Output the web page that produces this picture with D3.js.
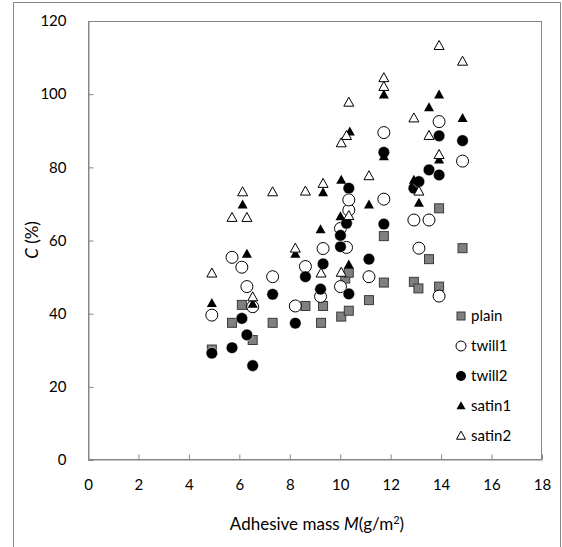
<!DOCTYPE html>
<html><head><meta charset="utf-8">
<script src="https://cdn.jsdelivr.net/npm/d3@7/dist/d3.min.js"></script>
<style>body{margin:0;background:#fff}svg{display:block}text{font-family:Lato,"Noto Sans",sans-serif;fill:#000}</style>
</head><body><svg id="c" width="562" height="547"></svg>
<script>
const xTicks=[0,2,4,6,8,10,12,14,16,18];
const yTicks=[0,20,40,60,80,100,120];
const seriesNames=["plain","twill1","twill2","satin1","satin2"];
const plainM=[4.91,5.71,6.10,6.53,7.32,8.62,9.24,9.32,10.04,10.34,10.2,10.34,11.14,11.73,11.73,12.92,13.1,13.52,13.92,13.92,14.85];
const plainC=[30.2,37.5,42.4,32.8,37.5,42.1,37.5,42.1,39.2,40.8,49.6,51.2,43.7,48.5,61.2,48.7,46.9,54.9,47.4,68.8,57.9];
const twill1M=[4.91,5.71,6.10,6.30,6.53,7.32,8.22,8.62,9.22,9.32,10.01,10.01,10.25,10.34,10.34,11.14,11.73,11.73,12.92,13.12,13.52,13.92,13.92,14.85];
const twill1C=[39.6,55.4,52.7,47.4,41.9,50.1,42.1,52.9,44.7,57.8,47.4,63.3,58.1,68.3,71.1,50.1,71.3,89.5,65.6,57.9,65.6,44.8,92.5,81.7];
const twill2M=[4.91,5.71,6.10,6.30,6.53,7.32,8.22,8.62,9.22,9.32,10.01,10.01,10.25,10.34,10.34,11.14,11.73,11.73,12.92,13.12,13.52,13.92,13.92,14.85];
const twill2C=[29.2,30.7,38.7,34.2,25.8,45.3,37.4,50.1,46.7,53.6,58.3,61.4,64.7,74.3,45.4,54.9,64.5,84.1,74.3,76.1,79.3,77.9,88.6,87.3];
const satin1M=[4.91,6.13,6.30,6.53,8.22,9.22,9.32,10.01,10.04,10.34,10.38,11.14,11.73,11.73,12.92,13.12,13.52,13.92,13.92,14.85];
const satin1C=[42.8,69.7,56.3,42.6,56.3,63.0,73.1,66.5,76.5,53.3,89.7,69.7,82.9,99.8,76.5,70.2,96.3,82.0,99.8,93.4];
const satin2M=[4.91,5.71,6.13,6.30,6.53,7.32,8.22,8.62,9.24,9.32,10.04,10.04,10.25,10.34,10.34,11.14,11.73,11.73,12.92,13.12,13.52,13.92,13.92,14.85];
const satin2C=[51.0,66.2,73.2,66.2,44.5,73.2,57.8,73.4,51.0,75.5,51.2,86.6,88.6,66.7,97.7,77.6,102.0,104.4,93.4,73.4,88.6,83.4,113.2,108.9];

const svg=d3.select("#c");
const L=88,R=542,T=21,B=460;
const x=d3.scaleLinear().domain([0,18]).range([L,R]);
const y=d3.scaleLinear().domain([0,120]).range([B,T]);
const grey="#868686";

// outer frame
svg.append("path").attr("d","M13.5,560 V2.5 H560.5 V560").attr("fill","none").attr("stroke",grey).attr("stroke-width",1);
// plot box
svg.append("rect").attr("x",L+0.5).attr("y",T+0.5).attr("width",R-L-1).attr("height",B-T-1).attr("fill","none").attr("stroke",grey);

const xa=svg.append("g").attr("transform",`translate(0,${B-0.5})`).call(d3.axisBottom(x).tickValues(xTicks).tickSizeInner(-5).tickSizeOuter(0).tickPadding(20));
const ya=svg.append("g").attr("transform",`translate(${L+0.5},0)`).call(d3.axisLeft(y).tickValues(yTicks).tickSizeInner(-5).tickSizeOuter(0).tickPadding(22));
[xa,ya].forEach(g=>{g.select(".domain").attr("stroke",grey);g.selectAll(".tick line").attr("stroke",grey);g.selectAll("text").attr("font-size",15).attr("font-family","Lato");});

// titles
const xt=svg.append("text").attr("x",317).attr("y",530).attr("text-anchor","middle").attr("font-size",17);
xt.append("tspan").text("Adhesive mass ");
xt.append("tspan").attr("font-style","italic").text("M");
xt.append("tspan").text("(g/m");
xt.append("tspan").attr("font-size",11).attr("dy",-6).text("2");
xt.append("tspan").attr("dy",6).text(")");
const yt=svg.append("text").attr("transform","translate(38,240) rotate(-90)").attr("text-anchor","middle").attr("font-size",17);
yt.append("tspan").attr("font-style","italic").text("C");
yt.append("tspan").text(" (%)");

function tri(s){const h=s*0.9;return `M0,${-h*0.6}L${s/2},${h*0.4}L${-s/2},${h*0.4}Z`;}
function draw(g,type,cx,cy){
  if(type==="plain") g.append("rect").attr("x",cx-4.5).attr("y",cy-4.5).attr("width",9).attr("height",9).attr("fill","#808080").attr("stroke","#3a3a3a").attr("stroke-width",1);
  else if(type==="twill1") g.append("circle").attr("cx",cx).attr("cy",cy).attr("r",6).attr("fill","#fff").attr("stroke","#000").attr("stroke-width",1);
  else if(type==="twill2") g.append("circle").attr("cx",cx).attr("cy",cy).attr("r",5.8).attr("fill","#000").attr("stroke","#fff").attr("stroke-width",0.5);
  else if(type==="satin1") g.append("path").attr("d",tri(10)).attr("transform",`translate(${cx},${cy})`).attr("fill","#000");
  else g.append("path").attr("d",tri(10)).attr("transform",`translate(${cx},${cy})`).attr("fill","#fff").attr("stroke","#000").attr("stroke-width",1);
}
const data={plain:[plainM,plainC],twill1:[twill1M,twill1C],twill2:[twill2M,twill2C],satin1:[satin1M,satin1C],satin2:[satin2M,satin2C]};
const pg=svg.append("g");
seriesNames.forEach(n=>{const [M,C]=data[n];M.forEach((m,i)=>draw(pg,n,x(m),y(C[i])));});

// legend
const lg=svg.append("g");
seriesNames.forEach((n,i)=>{
  const cy=316+i*30;
  const g=lg.append("g");
  if(n==="plain") g.append("rect").attr("x",457).attr("y",cy-4).attr("width",8).attr("height",8).attr("fill","#808080").attr("stroke","#3a3a3a");
  else if(n==="twill1") g.append("circle").attr("cx",461).attr("cy",cy).attr("r",5).attr("fill","#fff").attr("stroke","#000");
  else if(n==="twill2") g.append("circle").attr("cx",461).attr("cy",cy).attr("r",5).attr("fill","#000");
  else if(n==="satin1") g.append("path").attr("d",tri(9)).attr("transform",`translate(461,${cy})`).attr("fill","#000");
  else g.append("path").attr("d",tri(9)).attr("transform",`translate(461,${cy})`).attr("fill","#fff").attr("stroke","#000");
  lg.append("text").attr("x",471).attr("y",cy+5).attr("font-size",15).text(n);
});
</script></body></html>
